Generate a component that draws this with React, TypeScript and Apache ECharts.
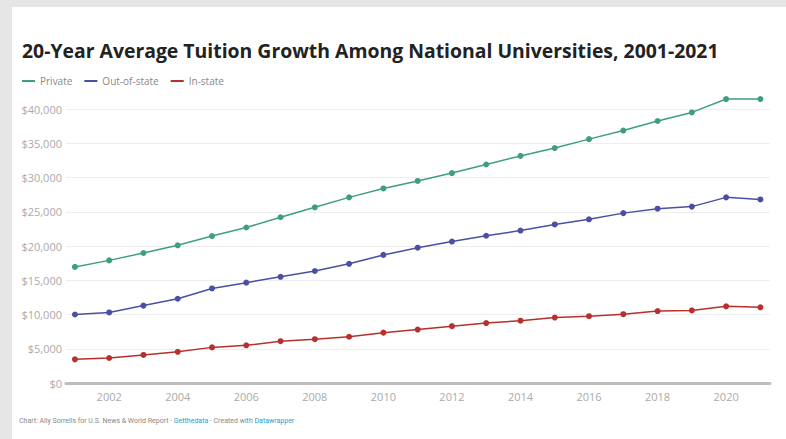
import React, { useEffect, useRef } from "react";
import * as echarts from "echarts";

const years = [2001, 2002, 2003, 2004, 2005, 2006, 2007, 2008, 2009, 2010, 2011, 2012, 2013, 2014, 2015, 2016, 2017, 2018, 2019, 2020, 2021];
const privateTuition = [16950, 17900, 18980, 20100, 21450, 22700, 24200, 25650, 27100, 28400, 29500, 30650, 31900, 33150, 34300, 35600, 36850, 38250, 39500, 41450, 41450];
const outOfStateTuition = [10000, 10300, 11300, 12300, 13800, 14650, 15500, 16350, 17400, 18700, 19750, 20650, 21500, 22250, 23150, 23900, 24800, 25450, 25750, 27100, 26800];
const inStateTuition = [3450, 3650, 4100, 4550, 5200, 5500, 6100, 6400, 6750, 7350, 7800, 8300, 8750, 9100, 9550, 9750, 10050, 10500, 10600, 11200, 11050];
const xTickYears = [2002, 2004, 2006, 2008, 2010, 2012, 2014, 2016, 2018, 2020];
const seriesNames = ["Private", "Out-of-state", "In-state"];
const seriesColors = ["#3f9f7b", "#4a4fa3", "#b7302b"];

const FONT = "'Open Sans', Roboto, sans-serif";
const SMALL = "Roboto, 'Noto Sans', sans-serif";

export default function App() {
  const ref = useRef<HTMLDivElement>(null);
  useEffect(() => {
    if (!ref.current) return;
    const chart = echarts.init(ref.current, null, { renderer: "svg" });
    const allData = [privateTuition, outOfStateTuition, inStateTuition];
    chart.setOption({
      animation: false,
      backgroundColor: "#e6e6e6",
      textStyle: { fontFamily: FONT },
      graphic: [
        { type: "rect", left: 12, top: 7, shape: { width: 774, height: 432 }, style: { fill: "#ffffff" }, z: -10 },
        {
          type: "text",
          left: 19,
          top: 417,
          style: {
            text: "{g|Chart: Ally Sorrells for U.S. News & World Report · }{b|Getthedata}{g| · Created with }{b|Datawrapper}",
            rich: {
              g: { fill: "#888888", fontSize: 7, fontFamily: SMALL },
              b: { fill: "#2a9bd4", fontSize: 7, fontFamily: SMALL },
            },
          },
        },
      ],
      title: {
        text: "20-Year Average Tuition Growth Among National Universities, 2001-2021",
        left: 17,
        top: 36,
        textStyle: { fontSize: 19.4, fontWeight: "bold", color: "#222222", fontFamily: FONT },
      },
      legend: {
        left: 17,
        top: 71,
        itemWidth: 13,
        itemHeight: 2,
        itemGap: 12,
        icon: "rect",
        textStyle: { fontSize: 10, color: "#888888", fontFamily: FONT },
        data: seriesNames,
      },
      grid: { left: 66, right: 16, top: 109, bottom: 56 },
      xAxis: {
        type: "value",
        min: 2000.74,
        max: 2021.28,
        splitLine: { show: false },
        axisLine: { show: true, lineStyle: { color: "#bdbdbd", width: 3 } },
        axisTick: { show: false },
        axisLabel: {
          customValues: xTickYears,
          formatter: (v: number) => String(v),
          color: "#aaaaaa",
          fontSize: 11,
          margin: 8,
          fontFamily: FONT,
        },
      },
      yAxis: {
        type: "value",
        min: 0,
        max: 40000,
        interval: 5000,
        axisLine: { show: false },
        axisTick: { show: false },
        splitLine: { lineStyle: { color: "#eeeeee", width: 1 } },
        axisLabel: {
          formatter: (v: number) => "$" + v.toLocaleString("en-US"),
          color: "#aaaaaa",
          fontSize: 11,
          margin: 4,
          fontFamily: FONT,
        },
      },
      series: seriesNames.map((name, i) => ({
        name,
        type: "line",
        clip: false,
        data: years.map((y, j) => [y, allData[i][j]]),
        symbol: "circle",
        symbolSize: 6,
        lineStyle: { width: 1.5, color: seriesColors[i] },
        itemStyle: { color: seriesColors[i] },
        color: seriesColors[i],
      })),
    });
    return () => chart.dispose();
  }, []);
  return (
    <div style={{ position: "fixed", left: 0, top: 0, width: 786, height: 439 }}>
      <div ref={ref} style={{ width: 786, height: 439 }} />
    </div>
  );
}
